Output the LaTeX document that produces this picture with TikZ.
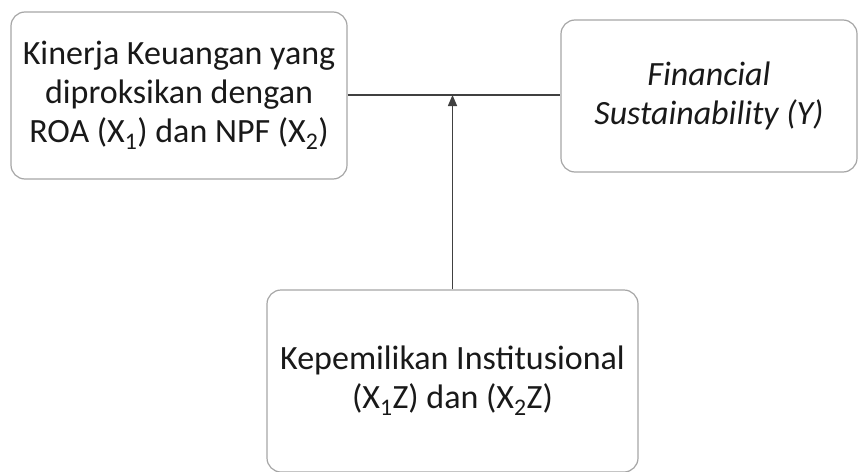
\documentclass[tikz,border=0pt]{standalone}
\usepackage{fontspec}
\setmainfont{Carlito}
\usetikzlibrary{arrows.meta}
\definecolor{boxline}{HTML}{A6A6A6}
\definecolor{conn}{HTML}{404040}
\begin{document}
\begin{tikzpicture}[x=1pt,y=1pt,
  box/.style={draw=boxline, line width=1.2pt, rounded corners=14pt, fill=white,
    align=center, inner sep=0pt, font=\fontsize{34}{39}\selectfont, text=black!90},
  conline/.style={draw=conn, line width=1.5pt}]
\useasboundingbox[fill=white] (0,0) rectangle (859,-471);
\node[box, minimum width=336pt, minimum height=167pt] (L) at (179,-95.5)
  {Kinerja Keuangan yang\\diproksikan dengan\\ROA (X\textsubscript{1}) dan NPF (X\textsubscript{2})};
\node[box, minimum width=296pt, minimum height=152pt] (R) at (709,-96)
  {\itshape Financial\\\itshape Sustainability (Y)};
\node[box, minimum width=371pt, minimum height=182pt] (B) at (452.5,-381)
  {Kepemilikan Institusional\\(X\textsubscript{1}Z) dan (X\textsubscript{2}Z)};
\draw[conline] (L.east |- 0,-95) -- (R.west |- 0,-95);
\coordinate (M) at (B.north |- 0,-95);
\draw[conline, -{Triangle[length=11pt,width=9pt]}] (B.north) -- (M);
\end{tikzpicture}
\end{document}
